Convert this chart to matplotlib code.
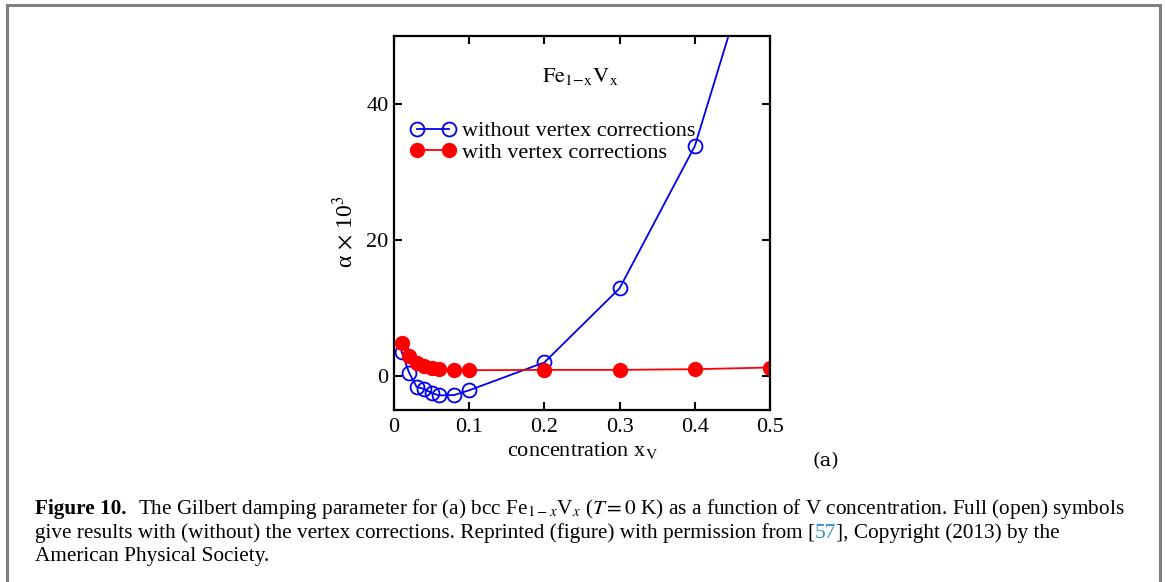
import matplotlib
matplotlib.use("Agg")
import matplotlib.pyplot as plt
from matplotlib.lines import Line2D

plt.rcParams['font.family'] = ['Liberation Serif', 'DejaVu Serif']
plt.rcParams['mathtext.fontset'] = 'stix'

# Gilbert damping (alpha x 10^3) vs V concentration
conc = [0.01, 0.02, 0.03, 0.04, 0.05, 0.06, 0.08, 0.1, 0.2, 0.3, 0.4, 0.5]
alpha_novc = [3.6, 0.5, -1.6, -1.9, -2.5, -2.85, -2.8, -2.1, 2.0, 12.9, 33.8, 70.0]
alpha_vc = [4.9, 2.9, 1.9, 1.4, 1.2, 1.1, 0.9, 0.85, 0.9, 0.9, 1.0, 1.25]
xticks = [0, 0.1, 0.2, 0.3, 0.4, 0.5]
xticklabels = ['0', '0.1', '0.2', '0.3', '0.4', '0.5']
yticks = [0, 20, 40]

W, H = 1165, 582
fig = plt.figure(figsize=(W / 100, H / 100), dpi=100)

ax = fig.add_axes([394 / W, 1 - 410 / H, 376 / W, 374 / H])
ax.plot(conc, alpha_novc, color='#0000ee', lw=1.3, marker='o', ms=10,
        mfc='none', mec='#0000ee', mew=1.3, label='without vertex corrections')
ax.plot(conc, alpha_vc, color='#ff0000', lw=1.3, marker='o', ms=10,
        mfc='#ff0000', mec='#ff0000', label='with vertex corrections')

ax.set_xlim(0, 0.5)
ax.set_ylim(-5, 50)
ax.set_xticks(xticks)
ax.set_xticklabels(xticklabels)
ax.set_yticks(yticks)
ax.tick_params(direction='in', length=6, width=1.5, labelsize=16,
               top=True, right=True, pad=4)
ax.tick_params(axis='x', pad=6)
for sp in ax.spines.values():
    sp.set_linewidth(1.6)

ax.set_xlabel(r'concentration x$_\mathrm{V}$', fontsize=16, labelpad=2)
ax.set_ylabel(r'α $\times$ 10$^{3}$', fontsize=17)
ax.yaxis.set_label_coords(-0.098, 0.476)

ax.text(0.247, 44, r'$\mathrm{Fe}_{\mathrm{1\!-\!x}}\mathrm{V}_{\mathrm{x}}$',
        fontsize=16, ha='center', va='center')

ax.legend(loc='upper left', bbox_to_anchor=(0.043, 0.773), frameon=False,
          fontsize=16, handlelength=2.04, handletextpad=0.3, numpoints=2,
          borderpad=0, borderaxespad=0, labelspacing=0.03)

fig.text(826 / W, 1 - 461 / H, '(a)', fontsize=14, ha='center', va='center',
         family='DejaVu Serif')

# gray frame (open at the bottom)
gray = '#808080'
fig.add_artist(Line2D([7 / W, 7 / W], [0, 1 - 5 / H], color=gray, lw=2.2,
                      transform=fig.transFigure))
fig.add_artist(Line2D([7 / W, 1159.5 / W], [1 - 5 / H, 1 - 5 / H], color=gray,
                      lw=2.2, transform=fig.transFigure))
fig.add_artist(Line2D([1159.5 / W, 1159.5 / W], [0, 1 - 5 / H], color=gray,
                      lw=2.2, transform=fig.transFigure))

# caption, drawn piece by piece so bold and colored runs line up
renderer = fig.canvas.get_renderer()
cap_size = 15.3


def caption_line(y, pieces, x0=35):
    x = x0
    for text, kw, gap in pieces:
        t = fig.text(x / W, 1 - y / H, text, fontsize=cap_size, va='baseline',
                     ha='left', **kw)
        x += t.get_window_extent(renderer).width + gap


caption_line(514, [
    ('Figure 10.', {'weight': 'bold'}, 11),
    (r'The Gilbert damping parameter for (a) bcc Fe$_{1-x}$V$_x$ ($T = 0$ K) '
     r'as a function of V concentration. Full (open) symbols', {}, 0),
])
caption_line(538, [
    ('give results with (without) the vertex corrections. Reprinted (figure) '
     'with permission from [', {}, 0),
    ('57', {'color': '#2a8fd0'}, 0),
    ('], Copyright (2013) by the', {}, 0),
])
caption_line(561, [('American Physical Society.', {}, 0)])

fig.savefig('out.png', dpi=100)
